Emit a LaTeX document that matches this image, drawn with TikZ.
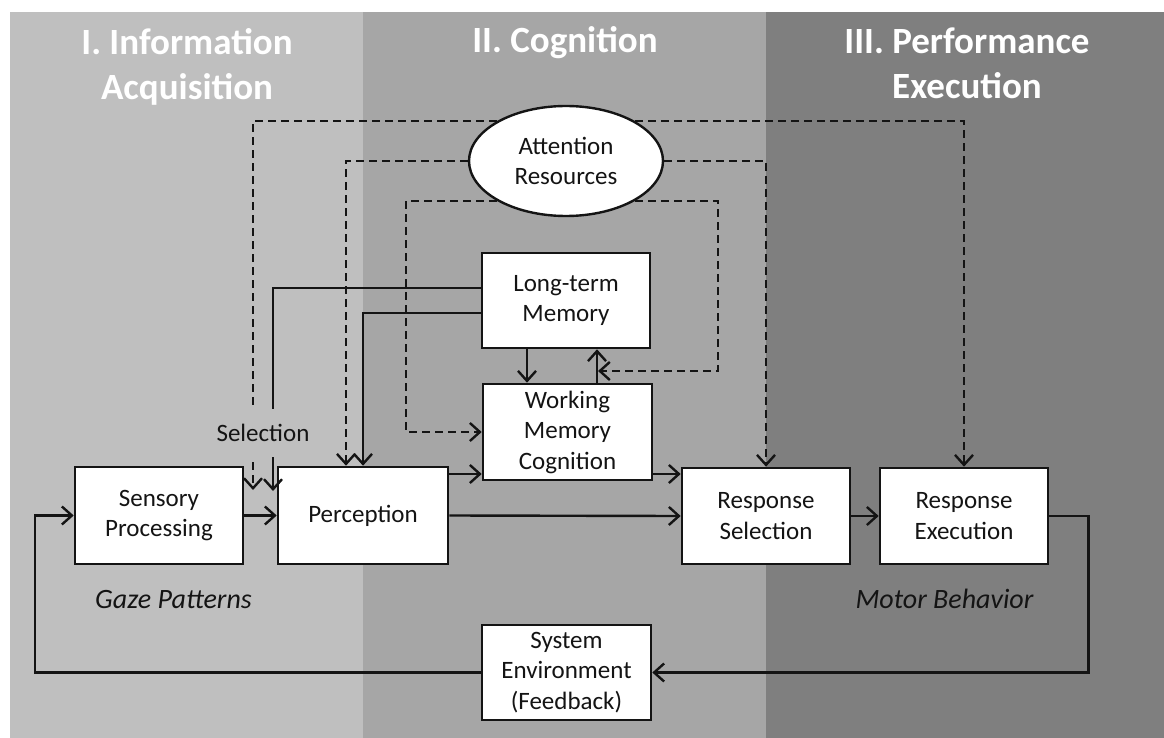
\documentclass[tikz,border=0pt]{standalone}
\usepackage{fontspec}
\setmainfont{Carlito}
\usetikzlibrary{arrows.meta,shapes.geometric,calc}

\definecolor{bandA}{HTML}{BFBFBF}
\definecolor{bandB}{HTML}{A6A6A6}
\definecolor{bandC}{HTML}{7F7F7F}
\definecolor{ink}{HTML}{141414}

\newcommand\dgBoxFont{\fontsize{25}{30.5}\selectfont}
\newcommand\dgHeadFont{\fontsize{37}{45}\selectfont\bfseries}
\newcommand\dgNoteFont{\fontsize{28}{34}\selectfont\itshape}

\begin{document}
\begin{tikzpicture}[x=1pt,y=-1pt,
  box/.style={draw=ink, line width=2.6pt, fill=white, inner sep=0pt,
    align=center, font=\dgBoxFont, text=ink},
  head/.style={text=white, align=center, font=\dgHeadFont, inner sep=0pt},
  note/.style={text=ink, font=\dgNoteFont, inner sep=0pt, anchor=base},
  arr/.style={draw=ink, line width=2.4pt,
    -{Straight Barb[length=10pt,width=18pt]}},
  dsh/.style={arr, dash pattern=on 8pt off 5pt}]

% page and the three stage bands
\fill[white] (0,0) rectangle (1164,738);
\fill[bandA] (10,12) rectangle (363,738);
\fill[bandB] (363,12) rectangle (766,738);
\fill[bandC] (766,12) rectangle (1164,738);

% stage headings
\node[head] (h1) at (187,67) {I. Information\\Acquisition};
\node[head, anchor=base] (h2) at (565,53) {II. Cognition};
\node[head] (h3) at (967,63.5) {III. Performance\\Execution};

% processing stages
\node[box, minimum width=168pt, minimum height=97pt] (sens) at (159,515.5) {Sensory\\Processing};
\node[box, minimum width=170pt, minimum height=97pt] (perc) at (363,515.5) {Perception};
\node[box, minimum width=168pt, minimum height=95pt] (ltm) at (566,300.5) {Long-term\\Memory};
\node[box, minimum width=169pt, minimum height=96pt] (wm) at (567.5,432) {Working\\Memory\\Cognition};
\node[box, minimum width=168pt, minimum height=96pt] (rsel) at (766,516) {Response\\Selection};
\node[box, minimum width=168pt, minimum height=96pt] (rexe) at (964,516) {Response\\Execution};
\node[box, minimum width=169pt, minimum height=95pt] (env) at (566.5,672.5) {System\\Environment\\(Feedback)};
\node[ellipse, draw=ink, line width=2.4pt, fill=white, inner sep=0pt, align=center,
  font=\dgBoxFont, text=ink, minimum width=194pt, minimum height=110pt] (att) at (566,161)
  {Attention\\Resources};

% italic captions
\node[note] (gaze) at (173.5,608) {Gaze Patterns};
\node[note] (motor) at (944.5,608) {Motor Behavior};

% end points of the selection arrows and the attention input to memory
\coordinate (selA) at (253,490);
\coordinate (selB) at (273,491);
\coordinate (ltmIn) at (598,371);

% main information flow
\draw[arr] (sens.east) -- (perc.west);
\draw[arr] (perc.east) -- (rsel.west);
\draw[arr] (perc.east |- 0,474) -- (wm.west |- 0,474);
\draw[arr] (wm.east |- 0,474) -- (rsel.west |- 0,474);
\draw[arr] (rsel.east) -- (rexe.west);
\draw[arr] (rexe.east) -- ++(39,0) |- (env.east);
\draw[arr] (env.west) -- ++(-446,0) |- (sens.west);

% memory exchange
\draw[arr] (ltm.south -| 527,0) -- (wm.north -| 527,0);
\draw[arr] (wm.north -| 597,0) -- (ltm.south -| 597,0);
\draw[arr] (ltm.west |- 0,288) -| (selB);
\draw[arr] (ltm.west |- 0,313) -| (perc.north);

% attention resources
\draw[dsh] (att.150) -| (selA);
\draw[dsh] (att.west) -| (perc.north -| 346,0);
\draw[dsh] (att.210) -- (att.210 -| 406,0) |- (wm.west);
\draw[dsh] (att.330) -| (718,371) -- (ltmIn);
\draw[dsh] (att.east) -| (rsel.north);
\draw[dsh] (att.30) -| (rexe.north);

% label sitting across the selection arrows
\node[font=\dgBoxFont, text=ink, fill=bandA, inner xsep=2pt, inner ysep=0pt,
  minimum height=48pt] (sel) at (263,433) {Selection};
\end{tikzpicture}
\end{document}
